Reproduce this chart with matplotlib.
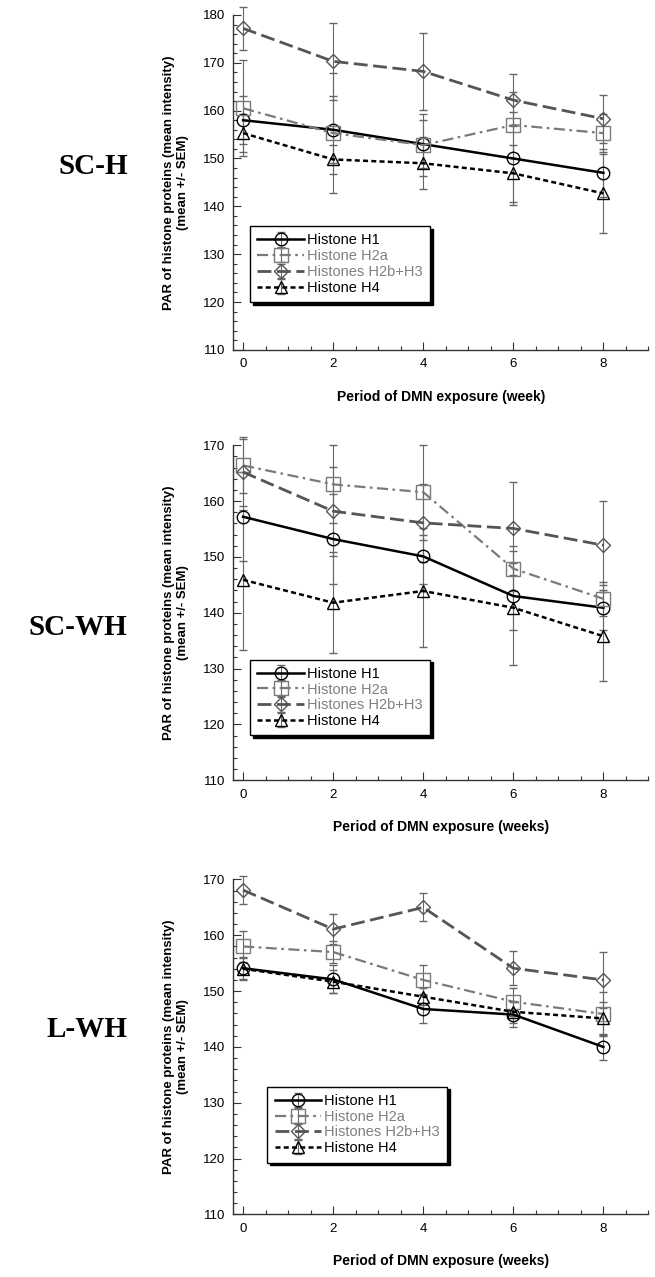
import numpy as np
import matplotlib
matplotlib.use("Agg")
import matplotlib.pyplot as plt
from matplotlib.ticker import MultipleLocator

plt.rcParams['font.family'] = ['Liberation Sans', 'DejaVu Sans']

# datos
semanas = [0, 2, 4, 6, 8]
series = ['Histone H1', 'Histone H2a', 'Histones H2b+H3', 'Histone H4']

# SC-H
sch_h1 = [158, 156, 153, 150, 147]
sch_h2a = [160.5, 155.3, 152.8, 157, 155.3]
sch_h2b = [177.2, 170.3, 168.2, 162.2, 158.3]
sch_h4 = [155.3, 149.8, 149, 146.9, 142.7]
sch_h1_err = [5, 7, 5, 9.7, 5]
sch_h2a_err = [10, 12.5, 6.5, 7, 4]
sch_h2b_err = [4.5, 8, 8, 5.5, 5]
sch_h4_err = [4, 3, 5.4, 6, 8.3]

# SC-WH
scwh_h1 = [157.2, 153.2, 150.1, 143, 140.9]
scwh_h2a = [166.4, 163, 161.6, 147.9, 142.5]
scwh_h2b = [165.2, 158.2, 156.1, 155.1, 152.1]
scwh_h4 = [145.9, 141.8, 143.9, 140.9, 135.8]
scwh_h1_err = [8, 8, 5, 6, 4]
scwh_h2a_err = [5, 7, 8.5, 4, 3]
scwh_h2b_err = [6, 8, 7, 8.3, 8]
scwh_h4_err = [12.5, 9, 10, 10.2, 8]

# L-WH
lwh_h1 = [154.1, 152.1, 146.8, 145.8, 140]
lwh_h2a = [158, 157, 152, 148.1, 145.9]
lwh_h2b = [168.1, 161.1, 165, 154.1, 152]
lwh_h4 = [154, 151.7, 149, 146.3, 145.1]
lwh_h1_err = [2, 2.5, 2.5, 2.3, 2.3]
lwh_h2a_err = [2.8, 2, 2.6, 2.5, 4]
lwh_h2b_err = [2.5, 2.7, 2.5, 3, 5]
lwh_h4_err = [2, 2, 1.5, 2, 3]

paneles = [
    ('SC-H', 'Period of DMN exposure (week)', (110, 180),
     [sch_h1, sch_h2a, sch_h2b, sch_h4],
     [sch_h1_err, sch_h2a_err, sch_h2b_err, sch_h4_err]),
    ('SC-WH', 'Period of DMN exposure (weeks)', (110, 170),
     [scwh_h1, scwh_h2a, scwh_h2b, scwh_h4],
     [scwh_h1_err, scwh_h2a_err, scwh_h2b_err, scwh_h4_err]),
    ('L-WH', 'Period of DMN exposure (weeks)', (110, 170),
     [lwh_h1, lwh_h2a, lwh_h2b, lwh_h4],
     [lwh_h1_err, lwh_h2a_err, lwh_h2b_err, lwh_h4_err]),
]

# estilos por serie
estilos = [
    dict(color='black', ls='-', lw=1.8, marker='o', ms=9),
    dict(color='#7a7a7a', ls=(0, (5, 2, 1.2, 2)), lw=1.6, marker='s', ms=10),
    dict(color='#555555', ls=(0, (5, 2)), lw=2.0, marker='D', ms=7),
    dict(color='black', ls=(0, (2, 1.3)), lw=1.8, marker='^', ms=8),
]
colores_texto = ['black', '#808080', '#808080', 'black']

# posiciones de ejes y leyendas (fraccion de figura / ejes)
fondos = [0.726, 0.389, 0.049]
pos_leyenda = [(0.041, 0.143), (0.041, 0.134), (0.082, 0.155)]
pos_titulo = [0.870, 0.509, 0.194]

fig = plt.figure(figsize=(6.55, 12.77), dpi=100)

for i, (titulo, xlab, ylim, valores, errores) in enumerate(paneles):
    ax = fig.add_axes([0.356, fondos[i], 0.634, 0.2623])
    for j in range(4):
        st = estilos[j]
        ax.errorbar(semanas, valores[j], yerr=errores[j], color=st['color'],
                    ls=st['ls'], lw=st['lw'], marker=st['marker'], ms=st['ms'],
                    mfc='none', mec=st['color'], mew=1.0,
                    ecolor='#666666', elinewidth=0.8, capsize=3, capthick=0.8,
                    label=series[j], clip_on=False)
    ax.set_xlim(-0.22, 9.0)
    ax.set_ylim(*ylim)
    ax.set_xticks(semanas)
    ax.xaxis.set_minor_locator(MultipleLocator(0.5))
    ax.yaxis.set_major_locator(MultipleLocator(10))
    ax.yaxis.set_minor_locator(MultipleLocator(2))
    ax.tick_params(which='both', direction='in', color='#333333', width=0.8,
                   labelsize=9.5, pad=6)
    ax.tick_params(which='major', length=6)
    ax.tick_params(which='minor', length=3)
    ax.spines['top'].set_visible(False)
    ax.spines['right'].set_visible(False)
    for s in ['left', 'bottom']:
        ax.spines[s].set_color('#333333')
        ax.spines[s].set_linewidth(1.0)
    ax.set_xlabel(xlab, fontsize=10, fontweight='bold', labelpad=14)
    ax.set_ylabel('PAR of histone proteins (mean intensity)\n(mean +/- SEM)',
                  fontsize=9.5, fontweight='bold', labelpad=10)

    leg = ax.legend(loc='lower left', bbox_to_anchor=pos_leyenda[i],
                    borderaxespad=0, fontsize=10.5, frameon=True, fancybox=False,
                    shadow={'facecolor': 'black', 'edgecolor': 'black', 'alpha': 1},
                    edgecolor='black', framealpha=1, handlelength=3.2,
                    handletextpad=0.2, labelspacing=0.12, borderpad=0.5)
    leg.get_frame().set_linewidth(1.0)
    for t, c in zip(leg.get_texts(), colores_texto):
        t.set_color(c)

    fig.text(0.195, pos_titulo[i], titulo, ha='right', va='center',
             fontsize=21, fontweight='bold', family='Liberation Serif')

fig.savefig('out.png', dpi=100)
